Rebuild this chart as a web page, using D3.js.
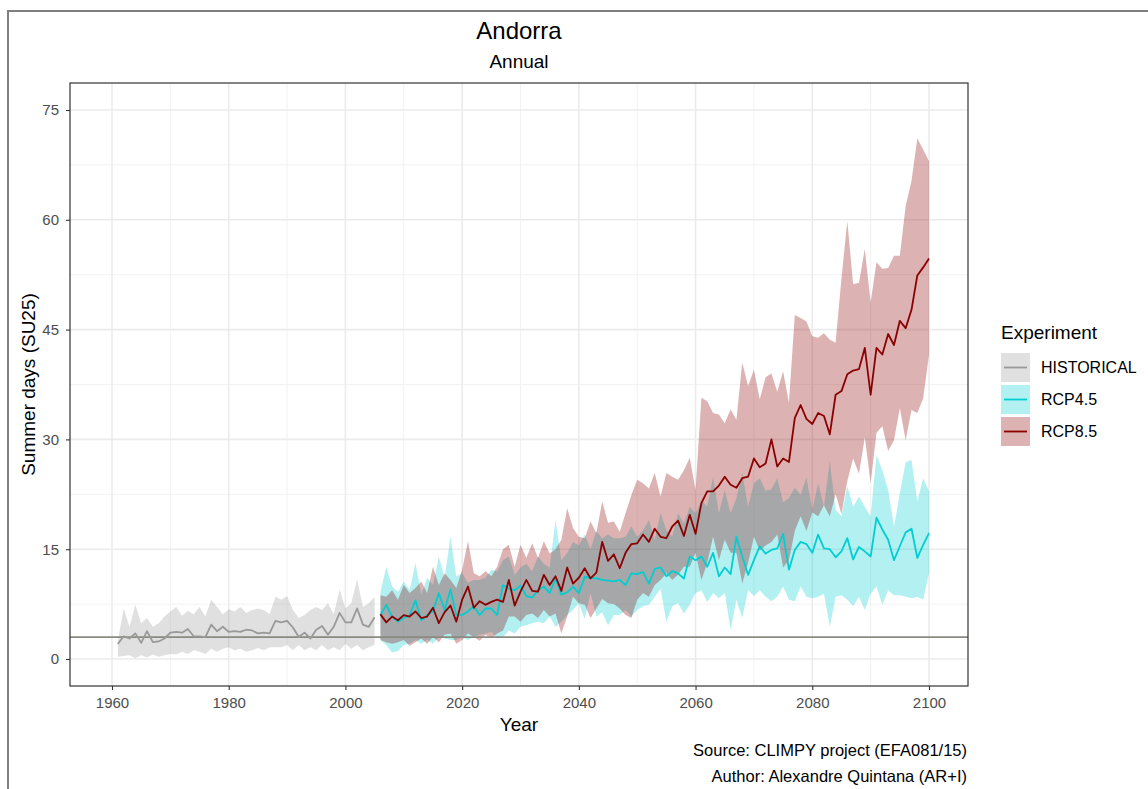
<!DOCTYPE html>
<html>
<head>
<meta charset="utf-8">
<script src="https://cdn.jsdelivr.net/npm/d3@7"></script>
<style>
  body { margin: 0; background: #fff; }
  text { font-family: "Liberation Sans", Arial, sans-serif; }
</style>
</head>
<body>
<div id="chart-area"></div>
<script>
// ---- data ----
const histYears = d3.range(1961, 2006)
const histMean = [2.05, 3.1, 2.8, 3.5, 2.2, 3.8, 2.3, 2.4, 2.8, 3.6, 3.7, 3.6, 4.1, 3.1, 3.1, 3.0, 4.7, 3.8, 4.4, 3.7,
  3.8, 3.7, 4.0, 3.9, 3.5, 3.6, 3.5, 5.2, 5.0, 5.2, 4.3, 3.0, 3.6, 2.8, 4.0, 4.5, 3.3, 4.4, 6.3, 5.0,
  5.0, 6.9, 4.7, 4.4, 5.7]
const histUpper = [2.4, 6.9, 4.4, 7.4, 4.9, 5.6, 4.4, 4.9, 5.8, 6.5, 7.1, 5.9, 6.6, 6.1, 7.1, 5.8, 8.1, 7.1, 6.1, 6.8,
  6.5, 7.1, 6.3, 6.7, 6.9, 6.7, 6.1, 8.5, 8.1, 8.6, 6.7, 5.6, 6.0, 6.7, 7.1, 6.7, 7.6, 6.1, 9.5, 6.9,
  7.6, 10.9, 7.1, 7.6, 8.5]
const histLower = [0.3, 0.4, 0.5, 0.1, 0.5, 0.2, 0.6, 0.3, 0.5, 0.7, 0.6, 1.0, 0.7, 1.2, 1.0, 0.7, 1.4, 1.0, 1.4, 1.6,
  1.2, 1.4, 1.0, 1.2, 1.5, 1.2, 1.6, 1.6, 1.6, 1.9, 1.2, 1.9, 1.2, 1.6, 1.2, 1.9, 1.2, 1.6, 1.2, 2.1,
  1.4, 1.9, 1.2, 1.6, 1.9]

const rcpYears = d3.range(2006, 2101)
const rcp45Mean = [6.0, 7.4, 5.8, 5.1, 5.6, 6.0, 8.0, 5.3, 6.0, 6.5, 9.0, 6.7, 9.5, 6.0, 6.0, 6.5, 7.2, 6.0, 6.9, 6.9, 6.0,
  10.1, 9.6, 9.4, 10.0, 8.6, 8.4, 9.4, 9.9, 9.0, 11.0, 8.8, 9.1, 9.9, 9.0, 11.2, 11.1, 11.0, 10.8, 10.7, 10.6, 10.8,
  10.1, 11.7, 11.6, 11.9, 10.3, 12.3, 12.5, 11.3, 12.0, 11.7, 11.0, 14.0, 13.5, 14.0, 12.6, 14.5, 11.3, 12.5, 11.6, 16.7, 14.0, 11.5, 13.5,
  15.4, 14.4, 14.9, 15.1, 17.1, 12.2, 14.9, 16.0, 15.7, 14.5, 17.0, 15.1, 15.0, 13.9, 14.7, 16.5, 13.6, 15.3, 14.7, 14.0,
  19.3, 17.7, 16.3, 13.5, 15.4, 17.3, 17.8, 13.8, 15.6, 17.2]
const rcp45Upper = [9.2, 12.6, 9.9, 9.2, 10.6, 9.4, 13.1, 8.8, 11.1, 10.1, 14.0, 11.1, 16.7, 11.3, 11.7, 10.4, 10.8, 10.8, 11.1, 12.2, 12.0,
  13.5, 14.0, 11.5, 12.5, 13.0, 12.0, 14.0, 13.0, 12.5, 19.0, 13.5, 14.5, 16.0, 15.5, 17.0, 15.0, 17.5, 16.5, 17.0, 16.5, 16.5,
  16.7, 18.1, 16.7, 17.6, 19.0, 16.3, 19.9, 17.6, 16.7, 19.9, 18.5, 20.8, 19.9,
  21.7, 20.8, 24.9, 19.9, 23.1, 19.9, 22.0, 25.4, 20.8, 24.0,
  24.7, 23.0, 23.2, 24.7, 21.4, 22.0, 23.4, 22.4, 24.8,
  20.4, 24.0, 20.8, 27.0, 20.4, 19.5, 23.6, 20.8, 22.2, 20.8, 19.5, 27.9, 25.8, 23.1, 18.1, 22.6, 26.9, 27.2, 21.5, 24.7, 22.9]
const rcp45Lower = [2.6, 1.9, 0.9, 1.1, 1.9, 2.1, 2.6, 2.1, 2.6, 2.1, 3.0, 2.8, 2.6, 2.6, 3.0, 2.6, 3.0, 3.3, 3.5, 3.7, 2.8,
  3.0, 3.9, 3.5, 4.4, 4.6, 4.9, 5.1, 4.9, 5.8, 4.4, 5.1, 6.0, 6.7, 7.6,
  5.5, 9.0, 5.8, 6.4, 4.6, 6.0, 6.0, 6.7, 5.8, 6.7, 7.2, 7.4, 8.5, 9.6, 5.1, 7.2, 7.6, 6.2, 7.4, 9.0,
  9.4, 7.8, 9.0, 8.3, 9.0, 4.0, 8.1, 5.6, 9.4, 8.6,
  9.4, 8.5, 7.9, 8.5, 9.9, 8.1, 7.9, 9.9, 8.5, 8.3, 8.5, 8.9, 4.4, 8.5, 8.7, 8.1, 7.2, 8.5, 6.7, 8.9,
  9.9, 7.4, 9.4, 8.7, 8.7, 8.5, 8.3, 8.5, 8.1, 11.7]

const rcp85Mean = [6.1, 5.0, 5.8, 5.3, 6.0, 5.8, 6.5, 5.6, 5.8, 7.0, 4.9, 6.4, 7.3, 5.1, 8.1, 9.9, 7.0, 7.9, 7.4, 7.8, 8.1,
  7.8, 10.8, 7.3, 9.2, 10.8, 9.3, 9.2, 11.5, 10.1, 11.3, 9.3, 12.5, 10.3, 11.1, 12.4, 11.0, 11.8, 16.0, 13.4, 14.3, 12.4,
  14.5, 15.7, 15.8, 17.0, 16.0, 17.8, 16.7, 16.5, 18.1, 18.9, 16.8, 19.7, 17.1, 21.3, 22.9, 22.9, 23.7, 24.9, 23.8, 23.4,
  24.7, 24.9, 27.4, 26.2, 26.7, 30.0, 26.3, 27.4, 26.9, 32.9, 34.7, 32.8,
  32.1, 33.6, 33.2, 30.7, 36.1, 36.6, 38.9, 39.4, 39.6, 42.5, 36.1, 42.5, 41.6, 44.4, 42.9, 46.2, 45.2, 47.7, 52.4, 53.5, 54.7]
const rcp85Upper = [8.7, 8.5, 9.4, 8.1, 10.1, 9.0, 9.7, 10.6, 9.0, 12.6, 10.1, 11.7, 10.8, 9.7, 12.2, 16.1, 11.7, 11.3, 12.0, 11.3, 12.6,
  15.0, 15.6, 12.6, 15.6, 13.8, 15.8, 13.8, 16.1, 14.4, 15.0, 16.3, 20.6, 17.9, 16.7, 16.5, 18.8, 17.2,
  21.5, 18.6, 18.8, 17.4, 19.9, 22.4, 24.5, 24.0, 23.3, 25.4, 22.2, 25.4, 24.9, 24.5, 25.8, 27.5, 23.1, 35.7, 35.2, 33.6, 33.4, 32.2, 34.1, 32.7,
  40.5, 37.3, 39.5, 35.5, 38.5, 39.0, 36.5, 39.3, 35.0,
  47.0, 46.6, 46.1, 44.1, 43.9, 44.5, 43.6, 43.2, 52.0, 59.8, 51.2, 51.4, 56.0, 48.7, 54.2, 53.3, 53.4, 55.1, 55.1, 61.9, 65.3, 71.1, 69.6, 68.0]
const rcp85Lower = [2.6, 2.3, 2.1, 2.3, 2.6, 1.8, 2.3, 2.8, 2.1, 3.0, 2.3, 3.3, 3.5, 2.1, 2.6, 3.5, 3.0, 2.5, 3.3, 2.8, 3.5,
  3.9, 5.8, 5.8, 5.1, 6.0, 6.2, 5.6, 6.7, 5.8, 6.2, 3.5, 5.8, 8.5, 7.6,
  7.4, 5.6, 6.9, 8.2, 7.6, 7.5, 6.9,
  6.0, 5.6, 8.1, 9.0, 8.5, 10.1, 10.8, 11.7, 10.8, 11.5, 12.6, 12.6, 14.5, 10.8, 13.1, 16.7, 13.5, 16.3, 14.5, 14.5, 10.3, 13.1, 16.7,
  14.8, 15.5, 16.0, 17.0, 12.5, 13.5, 17.5, 19.5, 17.5, 20.0, 19.5, 21.0, 19.5, 22.5, 19.8, 24.3, 27.4,
  25.3, 30.3, 24.0, 30.9, 31.8, 28.4, 29.9, 34.3, 29.9, 34.0, 33.6, 35.6, 41.6]

const refValue = 3.0
const xTicks = [1960, 1980, 2000, 2020, 2040, 2060, 2080, 2100]
const xMinor = [1970, 1990, 2010, 2030, 2050, 2070, 2090]
const yTicks = [0, 15, 30, 45, 60, 75]
const yMinor = [7.5, 22.5, 37.5, 52.5, 67.5]
const experiments = ["HISTORICAL", "RCP4.5", "RCP8.5"]

// ---- layout ----
const W = 1148, H = 789
const PANEL = { LEFT: 70, RIGHT: 968, TOP: 83, BOTTOM: 686 }
const lineCol = { "HISTORICAL": "#999999", "RCP4.5": "#00CED1", "RCP8.5": "#8B0000" }
const fillCol = { "HISTORICAL": "#999999", "RCP4.5": "#00CED1", "RCP8.5": "#8B0000" }
const ALPHA = 0.3
const FONT = "Liberation Sans, Arial, sans-serif"

const svg = d3.select("#chart-area").append("svg")
  .attr("width", W)
  .attr("height", H)

svg.append("rect").attr("width", W).attr("height", H).attr("fill", "#fff")

// outer frame of the picture
svg.append("rect")
  .attr("x", 8).attr("y", 11)
  .attr("width", W + 50).attr("height", H + 50)
  .attr("fill", "none").attr("stroke", "#7f7f7f").attr("stroke-width", 2)

const x = d3.scaleLinear()
  .domain([1960 - 42 / 5.8357, 2100 + 39 / 5.8357])
  .range([PANEL.LEFT, PANEL.RIGHT])

const y = d3.scaleLinear()
  .domain([-27 / 7.32, 75 + 27 / 7.32])
  .range([PANEL.BOTTOM, PANEL.TOP])

// grid
const grid = svg.append("g")
grid.selectAll(".xminor").data(xMinor).enter().append("line")
  .attr("x1", d => x(d)).attr("x2", d => x(d))
  .attr("y1", PANEL.TOP).attr("y2", PANEL.BOTTOM)
  .attr("stroke", "#f2f2f2").attr("stroke-width", 1)
grid.selectAll(".yminor").data(yMinor).enter().append("line")
  .attr("x1", PANEL.LEFT).attr("x2", PANEL.RIGHT)
  .attr("y1", d => y(d)).attr("y2", d => y(d))
  .attr("stroke", "#f2f2f2").attr("stroke-width", 1)
grid.selectAll(".xmajor").data(xTicks).enter().append("line")
  .attr("x1", d => x(d)).attr("x2", d => x(d))
  .attr("y1", PANEL.TOP).attr("y2", PANEL.BOTTOM)
  .attr("stroke", "#ebebeb").attr("stroke-width", 1.6)
grid.selectAll(".ymajor").data(yTicks).enter().append("line")
  .attr("x1", PANEL.LEFT).attr("x2", PANEL.RIGHT)
  .attr("y1", d => y(d)).attr("y2", d => y(d))
  .attr("stroke", "#ebebeb").attr("stroke-width", 1.6)

// series tables
const series = [
  { name: "HISTORICAL", rows: histYears.map((yr, i) => ({ yr, m: histMean[i], lo: histLower[i], hi: histUpper[i] })) },
  { name: "RCP4.5", rows: rcpYears.map((yr, i) => ({ yr, m: rcp45Mean[i], lo: rcp45Lower[i], hi: rcp45Upper[i] })) },
  { name: "RCP8.5", rows: rcpYears.map((yr, i) => ({ yr, m: rcp85Mean[i], lo: rcp85Lower[i], hi: rcp85Upper[i] })) }
]

const area = d3.area()
  .x(d => x(d.yr))
  .y0(d => y(d.lo))
  .y1(d => y(d.hi))

const line = d3.line()
  .x(d => x(d.yr))
  .y(d => y(d.m))

const plot = svg.append("g")

series.forEach(s => {
  plot.append("path")
    .datum(s.rows)
    .attr("d", area)
    .attr("fill", fillCol[s.name])
    .attr("fill-opacity", ALPHA)
})

// reference line
plot.append("line")
  .attr("x1", PANEL.LEFT).attr("x2", PANEL.RIGHT)
  .attr("y1", y(refValue)).attr("y2", y(refValue))
  .attr("stroke", "#8a8a82").attr("stroke-width", 1.8)

series.forEach(s => {
  plot.append("path")
    .datum(s.rows)
    .attr("d", line)
    .attr("fill", "none")
    .attr("stroke", lineCol[s.name])
    .attr("stroke-width", 1.8)
    .attr("stroke-linejoin", "round")
})

// panel border
svg.append("rect")
  .attr("x", PANEL.LEFT).attr("y", PANEL.TOP)
  .attr("width", PANEL.RIGHT - PANEL.LEFT).attr("height", PANEL.BOTTOM - PANEL.TOP)
  .attr("fill", "none").attr("stroke", "#333333").attr("stroke-width", 1.2)

// axes
const xAxisCall = d3.axisBottom(x).tickValues(xTicks).tickSize(4).tickPadding(7).tickFormat(d3.format("d"))
const xg = svg.append("g")
  .attr("transform", `translate(0, ${PANEL.BOTTOM})`)
  .call(xAxisCall)
xg.select(".domain").remove()
xg.selectAll("line").attr("stroke", "#333333").attr("stroke-width", 1.1)
xg.selectAll("text")
  .attr("font-size", "15px")
  .attr("fill", "#4d4d4d")
  .style("font-family", FONT)

const yAxisCall = d3.axisLeft(y).tickValues(yTicks).tickSize(4).tickPadding(7)
const yg = svg.append("g")
  .attr("transform", `translate(${PANEL.LEFT}, 0)`)
  .call(yAxisCall)
yg.select(".domain").remove()
yg.selectAll("line").attr("stroke", "#333333").attr("stroke-width", 1.1)
yg.selectAll("text")
  .attr("font-size", "15px")
  .attr("fill", "#4d4d4d")
  .style("font-family", FONT)

// titles
const midX = (PANEL.LEFT + PANEL.RIGHT) / 2
svg.append("text")
  .attr("x", midX).attr("y", 39)
  .attr("text-anchor", "middle").attr("font-size", "24px")
  .text("Andorra")
svg.append("text")
  .attr("x", midX).attr("y", 68)
  .attr("text-anchor", "middle").attr("font-size", "19px")
  .text("Annual")

svg.append("text")
  .attr("x", midX).attr("y", 731)
  .attr("text-anchor", "middle").attr("font-size", "19px")
  .text("Year")

svg.append("text")
  .attr("transform", `translate(35, ${(PANEL.TOP + PANEL.BOTTOM) / 2}) rotate(-90)`)
  .attr("text-anchor", "middle").attr("font-size", "19px")
  .text("Summer days (SU25)")

// caption
svg.append("text")
  .attr("x", PANEL.RIGHT - 1).attr("y", 756)
  .attr("text-anchor", "end").attr("font-size", "16.5px")
  .text("Source: CLIMPY project (EFA081/15)")
svg.append("text")
  .attr("x", PANEL.RIGHT - 1).attr("y", 782)
  .attr("text-anchor", "end").attr("font-size", "16.5px")
  .text("Author: Alexandre Quintana (AR+I)")

// legend
const legend = svg.append("g").attr("transform", "translate(1001, 0)")
legend.append("text")
  .attr("x", 0).attr("y", 339)
  .attr("font-size", "19px")
  .text("Experiment")

const keys = legend.selectAll(".key").data(experiments).enter().append("g")
  .attr("transform", (d, i) => `translate(0, ${353 + i * 32})`)
keys.append("rect")
  .attr("width", 29).attr("height", 29)
  .attr("fill", d => fillCol[d]).attr("fill-opacity", ALPHA)
keys.append("line")
  .attr("x1", 3).attr("x2", 26)
  .attr("y1", 14.5).attr("y2", 14.5)
  .attr("stroke", d => lineCol[d]).attr("stroke-width", 1.8)
keys.append("text")
  .attr("x", 40).attr("y", 14.5).attr("dy", "0.35em")
  .attr("font-size", "16px")
  .text(d => d)
</script>
</body>
</html>
